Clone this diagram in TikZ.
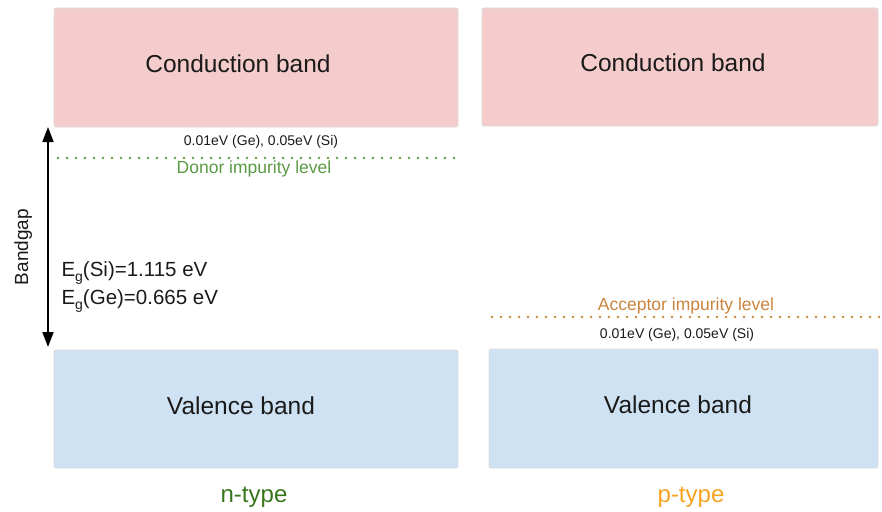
\documentclass[tikz,border=0pt]{standalone}
\usepackage{fontspec}
\setmainfont{Liberation Sans}
\usetikzlibrary{arrows.meta}
\definecolor{condpink}{HTML}{F4CCCC}
\definecolor{valblue}{HTML}{CFE2F3}
\definecolor{boxgray}{HTML}{DCDCDC}
\definecolor{textgray}{HTML}{1A1A1A}
\definecolor{donorgreen}{HTML}{5A9A45}
\definecolor{ntypegreen}{HTML}{38761D}
\definecolor{acceptorbrown}{HTML}{C8843E}
\definecolor{ptypeorange}{HTML}{F6A21E}
\newcommand{\gsub}{\raisebox{-5pt}{\fontsize{14}{14}\selectfont g}}
\begin{document}
\begin{tikzpicture}[x=1pt,y=-1pt,
  band/.style={draw=boxgray,line width=0.8pt,rounded corners=2pt},
  bandtext/.style={anchor=base,text=textgray,font=\fontsize{24.5}{28}\selectfont},
  gaptext/.style={anchor=base west,text=textgray,font=\fontsize{20.5}{24}\selectfont},
  energytext/.style={anchor=base,text=textgray,font=\fontsize{14}{16}\selectfont},
  level/.style={line width=2.6pt,line cap=round,dash pattern=on 0pt off 9pt},
  leveltext/.style={anchor=base,font=\fontsize{17.5}{20}\selectfont},
  typetext/.style={anchor=base,font=\fontsize{24}{28}\selectfont}]
\useasboundingbox (0,0) rectangle (882,511);
\draw[band,fill=condpink] (54,8) rectangle (458,127);
\draw[band,fill=condpink] (482,8) rectangle (878,126);
\draw[band,fill=valblue] (54,350) rectangle (458,468);
\draw[band,fill=valblue] (489,349) rectangle (878,468);
\node[bandtext] (condn) at (238,72) {Conduction band};
\node[bandtext] (condp) at (673,71) {Conduction band};
\node[bandtext] (valn) at (241,414) {Valence band};
\node[bandtext] (valp) at (678,413) {Valence band};
\coordinate (gaptop) at (48,127);
\coordinate (gapbot) at (48,347);
\draw[line width=2pt,{Triangle[width=11pt,length=15pt]}-{Triangle[width=11pt,length=15pt]}] (gaptop) -- (gapbot);
\node[anchor=base,rotate=90,text=textgray,font=\fontsize{19}{22}\selectfont] (bandgap) at (28,247) {Bandgap};
\node[gaptext] (egsi) at (58,276) {E\gsub(Si)=1.115 eV};
\node[gaptext] (egge) at (58,304) {E\gsub(Ge)=0.665 eV};
\draw[level,donorgreen] (58,158) -- (458,158);
\node[energytext] (donoreg) at (261,145) {0.01eV (Ge), 0.05eV (Si)};
\node[leveltext,text=donorgreen] (donor) at (254,173) {Donor impurity level};
\draw[level,acceptorbrown] (492,317) -- (881,317);
\node[leveltext,text=acceptorbrown] (acceptor) at (686,310) {Acceptor impurity level};
\node[energytext] (acceptoreg) at (677,338) {0.01eV (Ge), 0.05eV (Si)};
\node[typetext,text=ntypegreen] (ntype) at (254,502) {n-type};
\node[typetext,text=ptypeorange] (ptype) at (691,502) {p-type};
\end{tikzpicture}
\end{document}
